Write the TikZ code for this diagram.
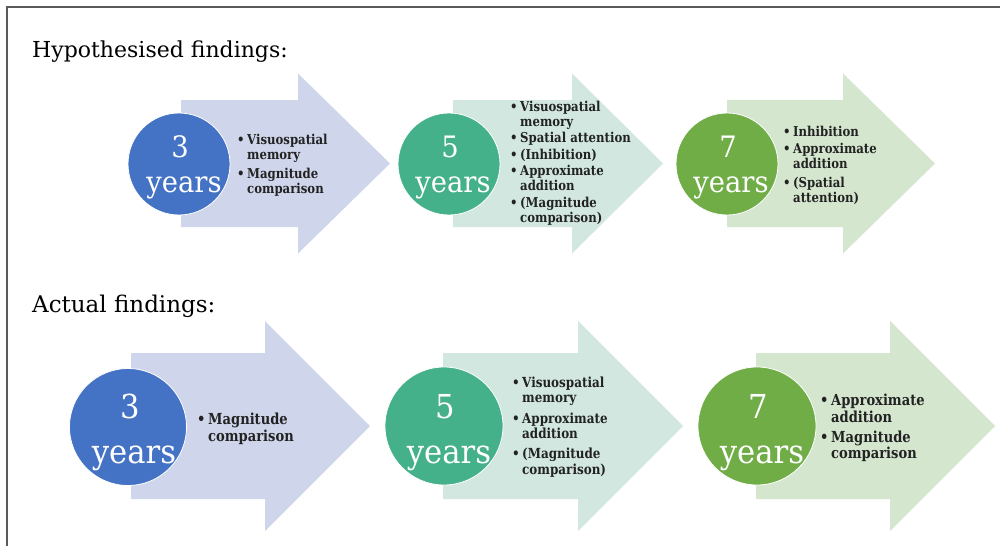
\documentclass[tikz,border=0pt]{standalone}
\usepackage{fontspec}
\setmainfont{DejaVu Serif}
\newfontfamily\lstfont[FakeStretch=0.86]{DejaVu Serif}
\newfontfamily\yrfont[FakeStretch=0.93]{DejaVu Serif}
\definecolor{cblue}{HTML}{4472C4}
\definecolor{ablue}{HTML}{CFD5EA}
\definecolor{cteal}{HTML}{45B18B}
\definecolor{ateal}{HTML}{D1E7DF}
\definecolor{cgreen}{HTML}{70AD47}
\definecolor{agreen}{HTML}{D5E6CF}
\definecolor{frame}{HTML}{5A5A5A}
\definecolor{ink}{HTML}{222222}
\newlength\bw
\newcommand{\bl}[1]{\makebox[\bw][l]{•}#1}
\newcommand{\ind}{\hspace*{\bw}}
\newcommand{\bigarrow}[7]{%
  \fill[#7] (#1,{#4-#5}) -- (#2,{#4-#5}) -- (#2,{#4-#6}) -- (#3,#4)
    -- (#2,{#4+#6}) -- (#2,{#4+#5}) -- (#1,{#4+#5}) -- cycle;}
\tikzset{
  title/.style={anchor=base west, inner sep=0, font=\fontsize{22}{26}\selectfont},
  disc/.style={circle, draw=white, line width=0.8pt, inner sep=0},
  numA/.style={anchor=base, inner sep=0, text=white, font=\yrfont\fontsize{29.5}{32}\selectfont},
  numB/.style={anchor=base, inner sep=0, text=white, font=\yrfont\fontsize{33}{36}\selectfont},
  listA/.style={anchor=west, inner sep=0, align=left, text=ink,
    font=\lstfont\fontsize{13.6}{15}\bfseries\selectfont\setlength\bw{10pt}},
  listB/.style={anchor=west, inner sep=0, align=left, text=ink,
    font=\lstfont\fontsize{15.2}{16.5}\bfseries\selectfont\setlength\bw{11pt}},
  listC/.style={anchor=west, inner sep=0, align=left, text=ink,
    font=\lstfont\fontsize{13.9}{15.6}\bfseries\selectfont\setlength\bw{10pt}},
}
\begin{document}
\begin{tikzpicture}[x=1pt,y=-1pt]
\useasboundingbox (0,0) rectangle (1000,546);
\fill[white] (0,0) rectangle (1000,546);
\draw[frame, line width=1.5pt] (7,546) -- (7,7) -- (1000,7);

\node[title] (h1) at (32,57) {Hypothesised findings:};
\node[title, font=\fontsize{23}{27}\selectfont] (h2) at (32,312) {Actual findings:};

% Row 1 arrows
\bigarrow{181}{298}{390}{163.5}{63.5}{90}{ablue}
\bigarrow{453}{572}{663}{163.5}{63.5}{90}{ateal}
\bigarrow{727}{843}{935}{163.5}{63.5}{90}{agreen}
% Row 2 arrows
\bigarrow{131}{265}{370}{426}{73}{105}{ablue}
\bigarrow{443}{578}{683}{426}{73}{105}{ateal}
\bigarrow{756}{890}{995}{426}{73}{105}{agreen}

% Row 1 circles
\node[disc, fill=cblue, minimum size=102pt] (c11) at (179,164) {};
\node[disc, fill=cteal, minimum size=102pt] (c12) at (449,164) {};
\node[disc, fill=cgreen, minimum size=102pt] (c13) at (727,164) {};
\node[numA] (n11) at (180,157) {3};
\node[numA] (y11) at (184,192) {years};
\node[numA] (n12) at (450,157) {5};
\node[numA] (y12) at (453,192) {years};
\node[numA] (n13) at (728,157) {7};
\node[numA] (y13) at (731,192) {years};

% Row 2 circles
\node[disc, fill=cblue, minimum size=117pt] (c21) at (128,427) {};
\node[disc, fill=cteal, minimum size=118pt] (c22) at (444,426) {};
\node[disc, fill=cgreen, minimum size=118pt] (c23) at (757,426) {};
\node[numB] (n21) at (130,418) {3};
\node[numB] (y21) at (134,463) {years};
\node[numB] (n22) at (445,418) {5};
\node[numB] (y22) at (449,463) {years};
\node[numB] (n23) at (758,418) {7};
\node[numB] (y23) at (762,463) {years};

% Row 1 lists
\node[listA] (t11) at (237,165) {\bl{Visuospatial}\\\ind memory\\[3.5pt]\bl{Magnitude}\\\ind comparison};
\node[listA] (t12) at (510,163) {\bl{Visuospatial}\\\ind memory\\[1.5pt]\bl{Spatial attention}\\[1.5pt]\bl{(Inhibition)}\\[1.5pt]\bl{Approximate}\\\ind addition\\[1.5pt]\bl{(Magnitude}\\\ind comparison)};
\node[listA] (t13) at (783,165) {\bl{Inhibition}\\[2pt]\bl{Approximate}\\\ind addition\\[4pt]\bl{(Spatial}\\\ind attention)};

% Row 2 lists
\node[listB] (t21) at (197,429) {\bl{Magnitude}\\\ind comparison};
\node[listC] (t22) at (512,427) {\bl{Visuospatial}\\\ind memory\\[4.5pt]\bl{Approximate}\\\ind addition\\[4.5pt]\bl{(Magnitude}\\\ind comparison)};
\node[listB] (t23) at (820,428) {\bl{Approximate}\\\ind addition\\[3.5pt]\bl{Magnitude}\\\ind comparison};
\end{tikzpicture}
\end{document}
